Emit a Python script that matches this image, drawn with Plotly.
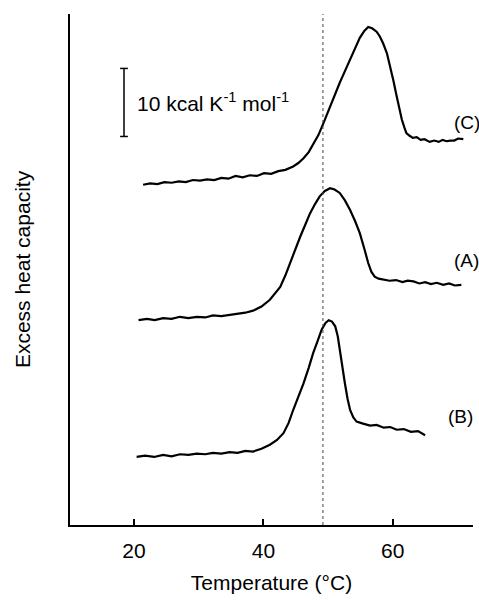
import plotly.graph_objects as go

# ---- data ----
temp_C = [21.4, 22.5, 23.6, 24.7, 25.8, 26.9, 28.0, 29.1, 30.2, 31.3, 32.4, 33.5, 34.6, 35.7,
          36.8, 37.9, 39.0, 40.1, 41.2, 42.3, 43.4, 44.6, 45.4, 46.2, 47.0, 47.7, 48.5, 49.3,
          50.3, 51.0, 51.8, 52.6, 53.4, 54.2, 54.9, 55.6, 56.2, 56.8, 57.5, 58.0, 58.5, 59.1,
          59.6, 60.1, 60.6, 61.0, 61.4, 61.8, 62.1, 62.6, 63.1, 63.7, 64.3, 64.9, 65.7, 66.4,
          67.1, 67.7, 68.3, 68.9, 69.5, 70.1, 70.9]
cp_C = [50.0, 50.2, 50.1, 50.4, 50.3, 50.5, 50.4, 50.7, 50.6, 50.8, 50.7, 51.0, 50.9, 51.3,
        51.1, 51.4, 51.3, 51.7, 51.6, 52.0, 52.2, 52.7, 53.2, 53.9, 54.8, 55.9, 57.3, 59.1,
        61.5, 63.2, 65.0, 66.7, 68.4, 70.1, 71.6, 72.6, 73.2, 73.0, 72.5, 71.8, 70.8, 69.3,
        67.4, 65.3, 63.0, 61.2, 59.6, 58.4, 57.6, 57.2, 56.9, 57.0, 56.6, 56.7, 56.3, 56.5,
        56.3, 56.6, 56.4, 56.5, 56.5, 56.8, 56.7]

temp_A = [20.7, 22.0, 23.2, 24.5, 25.8, 27.1, 28.4, 29.7, 31.0, 32.2, 33.5, 34.8, 36.0, 37.2,
          38.4, 39.7, 41.0, 41.8, 42.6, 43.4, 44.1, 44.9, 45.7, 46.5, 47.2, 48.0, 48.7, 49.5,
          50.3, 51.0, 51.8, 52.6, 53.4, 54.2, 54.9, 55.6, 56.2, 56.7, 57.2, 57.8, 58.5, 59.5,
          60.5, 61.5, 62.3, 63.2, 64.1, 65.0, 65.9, 66.8, 67.8, 68.7, 69.6, 70.6]
cp_A = [30.1, 30.3, 30.1, 30.4, 30.3, 30.6, 30.4, 30.6, 30.5, 30.8, 30.7, 30.9, 31.0, 31.2,
        31.5, 32.1, 33.1, 34.0, 35.0, 36.7, 38.5, 40.4, 42.4, 44.2, 45.8, 47.2, 48.3, 49.1,
        49.5, 49.3, 48.8, 47.7, 46.3, 44.6, 42.9, 40.6, 38.5, 37.2, 36.5, 36.2, 36.1, 35.9,
        36.0, 35.7, 35.9, 35.8, 35.5, 35.7, 35.4, 35.6, 35.3, 35.5, 35.2, 35.3]

temp_B = [20.4, 21.7, 23.1, 24.5, 25.8, 27.1, 28.4, 29.7, 31.0, 32.2, 33.5, 34.8, 36.0, 37.2,
          38.4, 39.7, 41.0, 42.1, 43.1, 43.9, 44.6, 45.4, 46.2, 47.0, 47.7, 48.4, 49.0, 49.6,
          50.1, 50.6, 51.1, 51.5, 51.8, 52.2, 52.6, 53.0, 53.4, 53.9, 54.4, 55.4, 56.5, 57.5,
          58.6, 59.6, 60.6, 61.7, 62.8, 63.9, 65.0]
cp_B = [10.0, 10.2, 10.0, 10.3, 10.1, 10.4, 10.3, 10.5, 10.4, 10.6, 10.5, 10.7, 10.6, 10.9,
        10.8, 11.2, 11.8, 12.5, 13.5, 15.0, 16.9, 18.8, 20.8, 23.1, 25.3, 27.1, 28.7, 29.7,
        30.1, 29.9, 29.2, 27.7, 25.7, 23.2, 20.8, 18.6, 16.9, 15.8, 15.2, 14.9, 14.6, 14.7,
        14.3, 14.4, 14.0, 14.1, 13.7, 13.8, 13.2]

curve_labels = ["(C)", "(A)", "(B)"]
label_temp = [69.15, 69.15, 68.2]
label_cp = [59.1, 38.8, 16.0]

x_ticks = [20, 40, 60]
ref_temp = 49.2                     # dotted reference line
scale_temp = 18.45                  # scale bar position
scale_bottom = 57.1
scale_len = 10                      # kcal K^-1 mol^-1
scale_cap = 0.6

x_range = [10.1, 72.4]
y_range = [0, 75.1]

FONT = "Liberation Sans, Arial, Helvetica, sans-serif"
line_style = dict(color="black", width=2.2)

fig = go.Figure()
for t, c in [(temp_C, cp_C), (temp_A, cp_A), (temp_B, cp_B)]:
    fig.add_trace(go.Scatter(x=t, y=c, mode="lines", line=line_style,
                             hoverinfo="skip", showlegend=False))

# dotted reference line
fig.add_trace(go.Scatter(x=[ref_temp, ref_temp], y=[y_range[0], y_range[1]], mode="lines",
                         line=dict(color="#444", width=1, dash="dot"),
                         hoverinfo="skip", showlegend=False))

# scale bar
top = scale_bottom + scale_len
fig.add_trace(go.Scatter(
    x=[scale_temp - scale_cap, scale_temp + scale_cap, None,
       scale_temp, scale_temp, None,
       scale_temp - scale_cap, scale_temp + scale_cap],
    y=[top, top, None, top, scale_bottom, None, scale_bottom, scale_bottom],
    mode="lines", line=dict(color="black", width=1.5),
    hoverinfo="skip", showlegend=False))

fig.add_annotation(x=scale_temp + 1.7, y=scale_bottom + scale_len / 2, xref="x", yref="y",
                   text="10 kcal K<sup>-1</sup> mol<sup>-1</sup>", showarrow=False,
                   xanchor="left", yanchor="middle",
                   font=dict(family=FONT, size=21, color="black"))

for lab, lt, lc in zip(curve_labels, label_temp, label_cp):
    fig.add_annotation(x=lt, y=lc, xref="x", yref="y", text=lab, showarrow=False,
                       xanchor="left", yanchor="middle",
                       font=dict(family=FONT, size=19, color="black"))

fig.update_layout(
    width=479, height=601,
    margin=dict(l=70, r=6, t=14, b=76),
    paper_bgcolor="white", plot_bgcolor="white",
    font=dict(family=FONT, size=21, color="black"),
    showlegend=False,
)
fig.update_xaxes(range=x_range, showline=True, linewidth=2, linecolor="black",
                 automargin=False,
                 ticks="inside", ticklen=6, tickwidth=2, tickcolor="black",
                 tickvals=x_ticks, showgrid=False, zeroline=False,
                 ticklabelstandoff=6, tickfont=dict(family=FONT, size=21),
                 title=dict(text="Temperature (°C)", standoff=14,
                            font=dict(family=FONT, size=21)))
fig.update_yaxes(range=y_range, showline=True, linewidth=2, linecolor="black",
                 automargin=False,
                 ticks="", showticklabels=False, showgrid=False, zeroline=False,
                 title=dict(text="Excess heat capacity", standoff=32,
                            font=dict(family=FONT, size=21)))

fig.write_html("out.html", config={"displayModeBar": False},
               post_script="document.body.style.margin='0';")
